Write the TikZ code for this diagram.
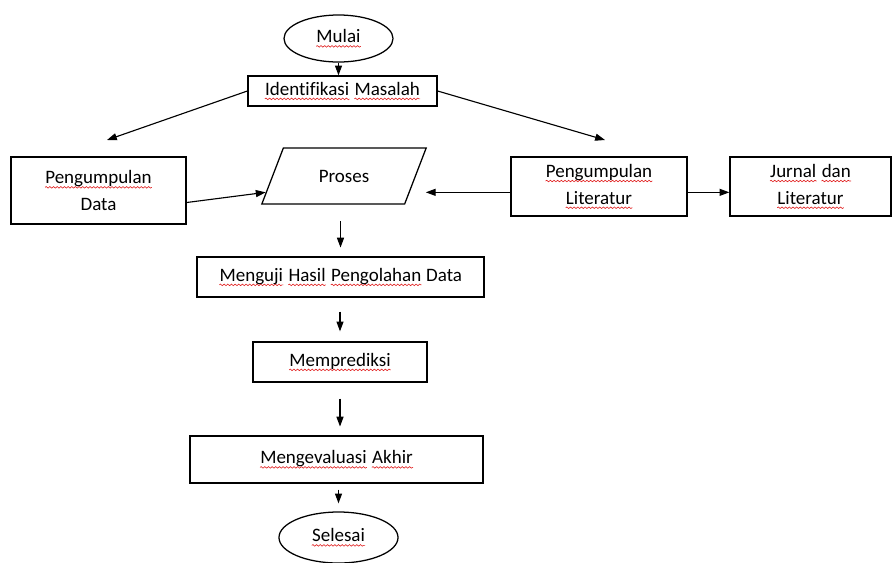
\documentclass[tikz,border=0pt]{standalone}
\usepackage{fontspec}
\setmainfont{Carlito}[Ligatures=NoCommon]
\usepackage{xcolor}
\usetikzlibrary{shapes.geometric, arrows.meta, positioning, calc, decorations.pathmorphing}
\definecolor{spellred}{RGB}{225,35,35}
\newcommand{\spellwave}[1]{\tikz[baseline=(w.base)]{\node[rectangle, inner sep=0pt, draw=none, minimum width=0pt, minimum height=0pt] (w) {#1};
    \draw[spellred, line width=0.45pt, decorate, decoration={snake, amplitude=0.55pt, segment length=2.6pt}] ([yshift=-2.6pt]w.base west) -- ([yshift=-2.6pt]w.base east);}}

\begin{document}
\begin{tikzpicture}[
    x=0.025cm, y=-0.025cm,
    proc/.style={draw, line width=0.9pt, rectangle, minimum width=#1, inner sep=0pt, align=center, font=\fontsize{13.5}{19}\selectfont},
    term/.style={draw, line width=0.9pt, ellipse, minimum width=#1, inner sep=0pt, font=\fontsize{13.5}{19}\selectfont},
    io/.style={draw, line width=0.9pt, trapezium, trapezium left angle=54, trapezium right angle=126, trapezium stretches=true, inner sep=0pt, font=\fontsize{13.5}{19}\selectfont},
    link/.style={line width=0.8pt, -{Triangle[length=7pt, width=5pt]}}
]
    \useasboundingbox (0,0) rectangle (892,562);

    % Start and first step
    \node[term=2.725cm, minimum height=1.175cm] (mulai) at (338.5,38.5) {\spellwave{Mulai}};
    \node[proc=4.725cm, minimum height=0.75cm] (identifikasi) at (342.5,91) {\spellwave{Identifikasi} \spellwave{Masalah}};

    % Collecting data and literature
    \node[proc=4.375cm, minimum height=1.675cm] (data) at (98.5,190.5) {\spellwave{Pengumpulan}\\Data};
    \node[io, minimum width=4.125cm, minimum height=1.4cm] (proses) at (344,176) {Proses};
    \node[proc=4.4cm, minimum height=1.475cm] (literatur) at (599,186.5) {\spellwave{Pengumpulan}\\\spellwave{Literatur}};
    \node[proc=4.025cm, minimum height=1.475cm] (jurnal) at (810.5,186.5) {\spellwave{Jurnal} \spellwave{dan}\\\spellwave{Literatur}};

    % Remaining steps
    \node[proc=7.175cm, minimum height=1cm] (menguji) at (340.5,277) {\spellwave{Menguji} \spellwave{Hasil} \spellwave{Pengolahan} Data};
    \node[proc=4.35cm, minimum height=1cm] (prediksi) at (340,362) {\spellwave{Memprediksi}};
    \node[proc=7.325cm, minimum height=1.175cm] (evaluasi) at (336.5,459.5) {\spellwave{Mengevaluasi} \spellwave{Akhir}};
    \node[term=2.975cm, minimum height=1.275cm] (selesai) at (338.5,537.5) {\spellwave{Selesai}};

    % Free arrow ends
    \coordinate (kiri) at (107,140);
    \coordinate (kanan) at (605,140);
    \coordinate (masukkiri) at ($(proses.left side)!0.57!(proses.bottom left corner)$);
    \coordinate (masukkanan) at ($(proses.right side)!0.57!(proses.bottom right corner)$);

    % Connections
    \draw[link] (mulai.south) -- (mulai.south |- identifikasi.north);
    \draw[link] (identifikasi.west) -- (kiri);
    \draw[link] (identifikasi.east) -- (kanan);
    \draw[link] ([yshift=-0.3cm]data.east) -- (masukkiri);
    \draw[link, shorten >=0.4cm] (literatur.west |- masukkanan) -- (masukkanan);
    \draw[link] (literatur.east |- masukkanan) -- (jurnal.west |- masukkanan);
    \draw[link, shorten <=0.42cm, shorten >=0.22cm] (menguji.north |- proses.south) -- (menguji.north);
    \draw[link, shorten <=0.35cm, shorten >=0.25cm] (prediksi.north |- menguji.south) -- (prediksi.north);
    \draw[link, shorten <=0.4cm, shorten >=0.22cm] (prediksi.south) -- (prediksi.south |- evaluasi.north);
    \draw[link, shorten <=0.15cm, shorten >=0.2cm] (selesai.north |- evaluasi.south) -- (selesai.north);
\end{tikzpicture}
\end{document}
